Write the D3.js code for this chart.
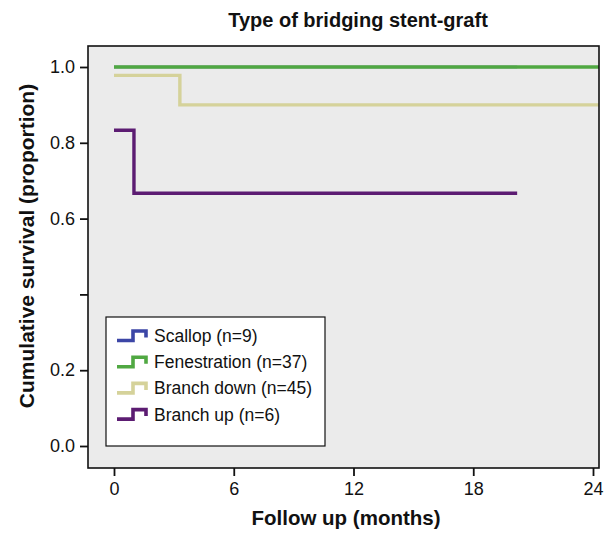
<!DOCTYPE html>
<html><head><meta charset="utf-8">
<script src="https://cdn.jsdelivr.net/npm/d3@7"></script>
<style>body{margin:0;background:#fff}svg{display:block;font-family:"Liberation Sans",Arial,sans-serif}</style>
</head><body><svg id="c" width="613" height="534"></svg>
<script>
const groups = ["Scallop (n=9)", "Fenestration (n=37)", "Branch down (n=45)", "Branch up (n=6)"];
const colors = ["#3c46a6", "#50a842", "#d5d29a", "#5c1c72"];
const scallopT = [0, 20.2], scallopS = [1, 1];
const fenT = [0, 24.4], fenS = [1, 1];
const downT = [0, 3.3, 24.4], downS = [0.978, 0.9, 0.9];
const upT = [0, 1.0, 20.2], upS = [0.833, 0.667, 0.667];
const xTicks = [0, 6, 12, 18, 24];
const yTicks = [0, 0.2, 0.4, 0.6, 0.8, 1.0];
const yLabels = ["0.0", "0.2", "", "0.6", "0.8", "1.0"];

const svg = d3.select("#c");
const box = {l: 88, r: 599, t: 46, b: 468};
const x = d3.scaleLinear().domain([0, 24]).range([114, 593]);
const y = d3.scaleLinear().domain([0, 1]).range([446, 67]);

svg.append("rect").attr("x", box.l).attr("y", box.t).attr("width", box.r - box.l).attr("height", box.b - box.t)
  .attr("fill", "#ebebeb");

svg.append("defs").append("clipPath").attr("id", "clip").append("rect")
  .attr("x", box.l).attr("y", box.t).attr("width", box.r - box.l).attr("height", box.b - box.t);

const series = [
  {T: scallopT, S: scallopS, c: colors[0], w: 2.4},
  {T: fenT, S: fenS, c: colors[1], w: 3.6},
  {T: downT, S: downS, c: colors[2], w: 3.4},
  {T: upT, S: upS, c: colors[3], w: 3.4}
];
const line = d3.line().x(d => x(d[0])).y(d => y(d[1])).curve(d3.curveStepAfter);
const g = svg.append("g").attr("clip-path", "url(#clip)");
[0, 2, 3, 1].forEach(i => {
  const s = series[i];
  g.append("path").attr("d", line(s.T.map((t, k) => [t, s.S[k]])))
    .attr("fill", "none").attr("stroke", s.c).attr("stroke-width", s.w);
});

svg.append("rect").attr("x", box.l).attr("y", box.t).attr("width", box.r - box.l).attr("height", box.b - box.t)
  .attr("fill", "none").attr("stroke", "#111").attr("stroke-width", 1.6);

// y axis
const ya = d3.axisLeft(y).tickValues(yTicks).tickSize(8).tickPadding(5)
  .tickFormat((d, i) => yLabels[i]);
const yg = svg.append("g").attr("transform", `translate(${box.l},0)`).call(ya);
yg.select(".domain").remove();
yg.selectAll("line").attr("stroke", "#111").attr("stroke-width", 1.8);
yg.selectAll("text").attr("font-size", 18).attr("fill", "#111").attr("font-family", '"Liberation Sans",Arial,sans-serif');

// x axis
const xa = d3.axisBottom(x).tickValues(xTicks).tickSize(8).tickPadding(6).tickFormat(d3.format("d"));
const xg = svg.append("g").attr("transform", `translate(0,${box.b})`).call(xa);
xg.select(".domain").remove();
xg.selectAll("line").attr("stroke", "#111").attr("stroke-width", 1.8);
xg.selectAll("text").attr("font-size", 18).attr("fill", "#111").attr("font-family", '"Liberation Sans",Arial,sans-serif');

// titles
svg.append("text").attr("x", 358).attr("y", 27).attr("text-anchor", "middle")
  .attr("font-size", 20).attr("font-weight", "bold").attr("fill", "#111").text("Type of bridging stent-graft");
svg.append("text").attr("x", 346).attr("y", 525).attr("text-anchor", "middle")
  .attr("font-size", 20.5).attr("font-weight", "bold").attr("fill", "#111").text("Follow up (months)");
svg.append("text").attr("transform", "translate(34,246) rotate(-90)").attr("text-anchor", "middle")
  .attr("font-size", 21).attr("font-weight", "bold").attr("fill", "#111").text("Cumulative survival (proportion)");

// legend
const lg = svg.append("g");
lg.append("rect").attr("x", 106).attr("y", 317).attr("width", 219).attr("height", 129)
  .attr("fill", "#fff").attr("stroke", "#111").attr("stroke-width", 1.2);
groups.forEach((name, i) => {
  const yc = 336 + i * 26.2;
  lg.append("path").attr("d", `M117,${yc + 4.5}H133V${yc - 5}H146V${yc + 1.5}`)
    .attr("fill", "none").attr("stroke", colors[i]).attr("stroke-width", 3.6);
  lg.append("text").attr("x", 154).attr("y", yc + 6).attr("font-size", 17.5).attr("fill", "#111").text(name);
});
</script></body></html>
